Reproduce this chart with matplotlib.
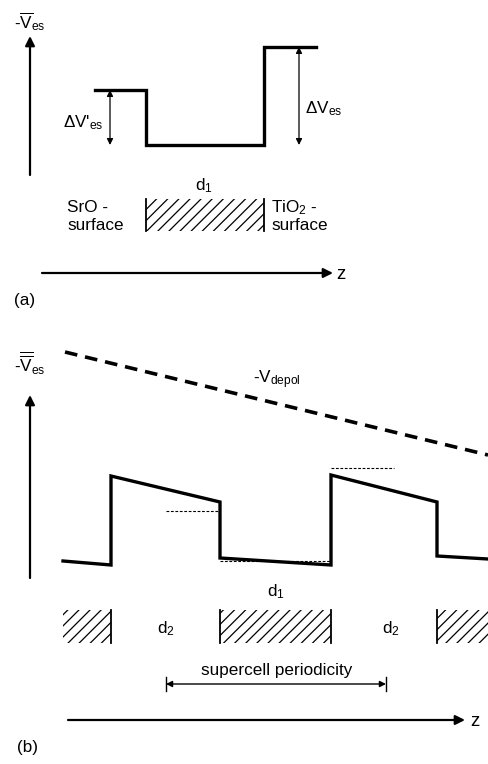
import matplotlib
matplotlib.use('Agg')
import matplotlib.pyplot as plt

plt.rcParams['font.family'] = ['Liberation Sans', 'DejaVu Sans']
plt.rcParams['mathtext.fontset'] = 'custom'
plt.rcParams['mathtext.rm'] = 'Liberation Sans'
plt.rcParams['mathtext.it'] = 'Liberation Sans:italic'
plt.rcParams['hatch.linewidth'] = 0.9

# (a) potential step profile across the slab
a_prof_x = [95, 146, 146, 264, 264, 316]
a_prof_y = [90, 90, 145, 145, 47, 47]
a_slab = (146, 264)          # hatched slab d1
a_dv_small = (110, 90, 145)  # x, top, bottom of dV'es arrow
a_dv_big = (299, 47, 145)    # x, top, bottom of dVes arrow

# (b) periodic supercell profile
b_prof_x = [63, 111, 111, 220, 220, 331, 331, 437, 437, 488]
b_prof_y = [561, 565, 476, 502, 558, 565, 475, 502, 556, 559]
b_depol_x = [65, 488]
b_depol_y = [352, 455]
b_avg_lines = [(166, 220, 511), (331, 394, 468), (220, 331, 561)]
b_slabs = [(63, 111, 'r'), (220, 331, 'lr'), (437, 488, 'l')]
b_period = (166, 386)

fig = plt.figure(figsize=(4.88, 7.64), dpi=100)
ax = fig.add_axes([0, 0, 1, 1])
ax.set_xlim(0, 488)
ax.set_ylim(764, 0)
ax.axis('off')

fs = 12.3


def arrow(x0, y0, x1, y1, style='-|>', lw=1.6, ms=14):
    ax.annotate('', xy=(x1, y1), xytext=(x0, y0),
                arrowprops=dict(arrowstyle=style, lw=lw, color='k',
                                mutation_scale=ms, shrinkA=0, shrinkB=0))


def slab(x0, x1, y0, y1, sides):
    ax.fill_between([x0, x1], y0, y1, facecolor='none', edgecolor='k',
                    hatch='///', linewidth=0)
    if 'l' in sides:
        ax.plot([x0, x0], [y0, y1], color='k', lw=1.3)
    if 'r' in sides:
        ax.plot([x1, x1], [y0, y1], color='k', lw=1.3)


# ---------------- panel (a)
arrow(30, 175, 30, 36)
ax.text(14, 28, r'-$\overline{\mathrm{V}}_{\mathrm{es}}$', fontsize=fs, va='baseline')
ax.plot(a_prof_x, a_prof_y, color='k', lw=2.4, solid_joinstyle='miter')

x, t, b = a_dv_small
arrow(x, b, x, t, style='<|-|>', lw=0.9, ms=9)
ax.text(63, 127, "\u0394V'$_{\\mathrm{es}}$", fontsize=fs, va='baseline')
x, t, b = a_dv_big
arrow(x, b, x, t, style='<|-|>', lw=0.9, ms=9)
ax.text(305, 113, "\u0394V$_{\\mathrm{es}}$", fontsize=fs, va='baseline')

ax.text(195, 190, r'd$_1$', fontsize=fs, va='baseline')
slab(a_slab[0], a_slab[1], 199, 231, 'lr')
ax.text(67, 212, 'SrO -', fontsize=fs, va='baseline')
ax.text(67, 230, 'surface', fontsize=fs, va='baseline')
ax.text(271, 212, r'TiO$_2$ -', fontsize=fs, va='baseline')
ax.text(271, 230, 'surface', fontsize=fs, va='baseline')

arrow(42, 273, 333, 273)
ax.text(336, 279, 'z', fontsize=fs + 1, va='baseline')
ax.text(14, 305, '(a)', fontsize=fs, va='baseline')

# ---------------- panel (b)
arrow(30, 578, 30, 395)
ax.text(14, 372, r'-$\overline{\overline{\mathrm{V}}}_{\mathrm{es}}$', fontsize=fs, va='baseline')

ln, = ax.plot(b_depol_x, b_depol_y, color='k', lw=2.6)
ln.set_dashes((3.5, 2.2))
ax.text(253, 383, r'-V$_{\mathrm{depol}}$', fontsize=fs, va='baseline')

ax.plot(b_prof_x, b_prof_y, color='k', lw=2.4, solid_joinstyle='miter')
for x0, x1, y in b_avg_lines:
    l2, = ax.plot([x0, x1], [y, y], color='k', lw=0.8)
    l2.set_dashes((2.5, 1.5))

ax.text(267, 596, r'd$_1$', fontsize=fs, va='baseline')
for x0, x1, s in b_slabs:
    slab(x0, x1, 610, 643, s)
ax.text(157, 633, r'd$_2$', fontsize=fs, va='baseline')
ax.text(382, 633, r'd$_2$', fontsize=fs, va='baseline')

ax.text(277, 675, 'supercell periodicity', fontsize=fs, ha='center', va='baseline')
arrow(b_period[0], 684, b_period[1], 684, style='<|-|>', lw=1.0, ms=9)
for xb in b_period:
    ax.plot([xb, xb], [677, 691], color='k', lw=1.0)

arrow(68, 720, 465, 720)
ax.text(470, 726, 'z', fontsize=fs + 1, va='baseline')
ax.text(17, 752, '(b)', fontsize=fs, va='baseline')

fig.savefig('out.png', dpi=100)
